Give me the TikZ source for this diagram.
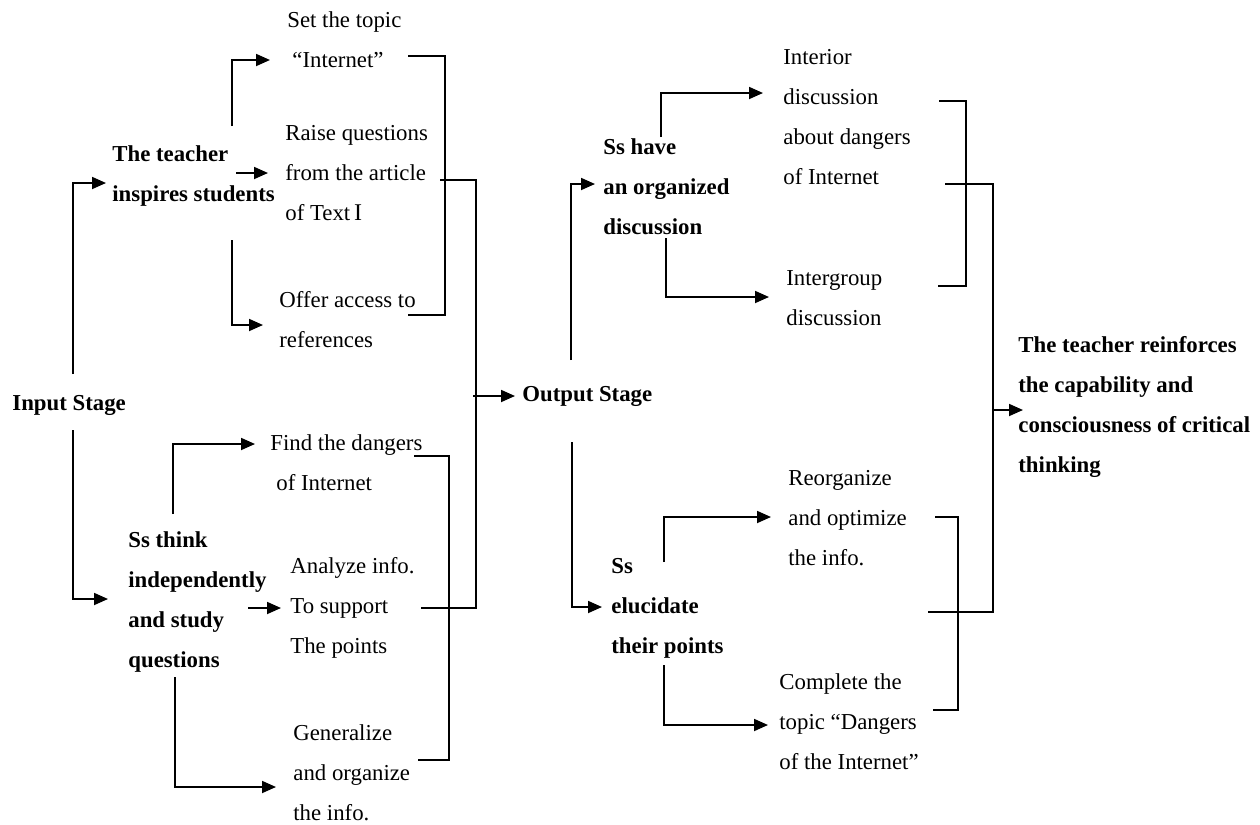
\documentclass[tikz,border=0pt]{standalone}
\usepackage{fontspec}
\setmainfont{Liberation Serif}
\usepackage{tikz}
\usetikzlibrary{arrows.meta, positioning}

\begin{document}
\begin{tikzpicture}[
    x=0.5pt, y=-0.5pt,
    txt/.style={anchor=west, inner sep=0pt, align=left, font=\fontsize{11.4}{20}\selectfont},
    stage/.style={txt, font=\fontsize{11.4}{20}\selectfont\bfseries},
    arr/.style={-{Triangle[length=7pt, width=6pt]}, line width=0.9pt},
    brk/.style={line width=0.6pt}
]
  \useasboundingbox (0,0) rectangle (1260,825);

  % input stage
  \node[stage] (input) at (12,405) {Input Stage};
  \node[stage] (teacher) at (112,176) {The teacher\\inspires students};
  \node[txt] (settopic) at (287,40) {Set the topic\\\hspace{2.5pt}“Internet”};
  \node[txt] (raise) at (285,173) {Raise questions\\from the article\\of Text\,{\large I}};
  \node[txt] (offer) at (279,320) {Offer access to\\references};
  \node[stage] (ssthink) at (128,602) {Ss think\\independently\\and study\\questions};
  \node[txt] (find) at (270,463) {Find the dangers\\\hspace{3pt}of Internet};
  \node[txt] (analyze) at (290,608) {Analyze info.\\To support\\The points};
  \node[txt] (general) at (293,773) {Generalize\\and organize\\the info.};

  % output stage
  \node[stage] (output) at (522,396) {Output Stage};
  \node[stage] (sshave) at (603,187) {Ss have\\an organized\\discussion};
  \node[txt] (interior) at (783,117) {Interior\\discussion\\about dangers\\of Internet};
  \node[txt] (intergroup) at (786,298) {Intergroup\\discussion};
  \node[stage] (sselucid) at (611,608) {Ss\\elucidate\\their points};
  \node[txt] (reorg) at (788,518) {Reorganize\\and optimize\\the info.};
  \node[txt] (complete) at (779,722) {Complete the\\topic “Dangers\\of the Internet”};
  \node[stage] (reinforce) at (1018,407) {The teacher reinforces\\the capability and\\consciousness of critical\\thinking};

  \draw[arr] ([shift={(61,-31)}]input.west) |- ([shift={(-6,7)}]teacher.west);
  \draw[arr] ([shift={(120,-50)}]teacher.west) |- ([shift={(-17,20)}]settopic.west);
  \draw[arr] ([shift={(124,-3)}]teacher.west) -- ([shift={(-17,0)}]raise.west);
  \draw[arr] ([shift={(120,64)}]teacher.west) |- ([shift={(-16,5)}]offer.west);
  \draw[brk] ([shift={(121,16)}]settopic.west) -| ([shift={(166,-5)}]offer.west) -- ([shift={(129,-5)}]offer.west);

  \draw[arr] ([shift={(61,25)}]input.west) |- ([shift={(-20,-3)}]ssthink.west);
  \draw[arr] ([shift={(45,-88)}]ssthink.west) |- ([shift={(-15,-19)}]find.west);
  \draw[arr] ([shift={(120,6)}]ssthink.west) -- ([shift={(-9,0)}]analyze.west);
  \draw[arr] ([shift={(47,75)}]ssthink.west) |- ([shift={(-17,14)}]general.west);
  \draw[brk] ([shift={(144,-7)}]find.west) -| ([shift={(156,-13)}]general.west) -- ([shift={(125,-13)}]general.west);

  \draw[brk] ([shift={(155,7)}]raise.west) -| ([shift={(186,0)}]analyze.west) -- ([shift={(131,0)}]analyze.west);
  \draw[arr] ([shift={(-49,0)}]output.west) -- ([shift={(-7,0)}]output.west);

  \draw[arr] ([shift={(49,-36)}]output.west) |- ([shift={(-8,-3)}]sshave.west);
  \draw[arr] ([shift={(58,-50)}]sshave.west) |- ([shift={(-20,-24)}]interior.west);
  \draw[arr] ([shift={(63,51)}]sshave.west) |- ([shift={(-17,-1)}]intergroup.west);
  \draw[brk] ([shift={(156,-16)}]interior.west) -| ([shift={(180,-12)}]intergroup.west) -- ([shift={(152,-12)}]intergroup.west);

  \draw[arr] ([shift={(50,46)}]output.west) |- ([shift={(-9,-1)}]sselucid.west);
  \draw[arr] ([shift={(53,-46)}]sselucid.west) |- ([shift={(-17,-1)}]reorg.west);
  \draw[arr] ([shift={(53,57)}]sselucid.west) |- ([shift={(-11,3)}]complete.west);
  \draw[brk] ([shift={(147,-1)}]reorg.west) -| ([shift={(179,-12)}]complete.west) -- ([shift={(154,-12)}]complete.west);

  \draw[brk] ([shift={(162,67)}]interior.west) -| ([shift={(205,94)}]reorg.west) -- ([shift={(140,94)}]reorg.west);
  \draw[arr] ([shift={(-25,3)}]reinforce.west) -- ([shift={(5,3)}]reinforce.west);
\end{tikzpicture}
\end{document}
